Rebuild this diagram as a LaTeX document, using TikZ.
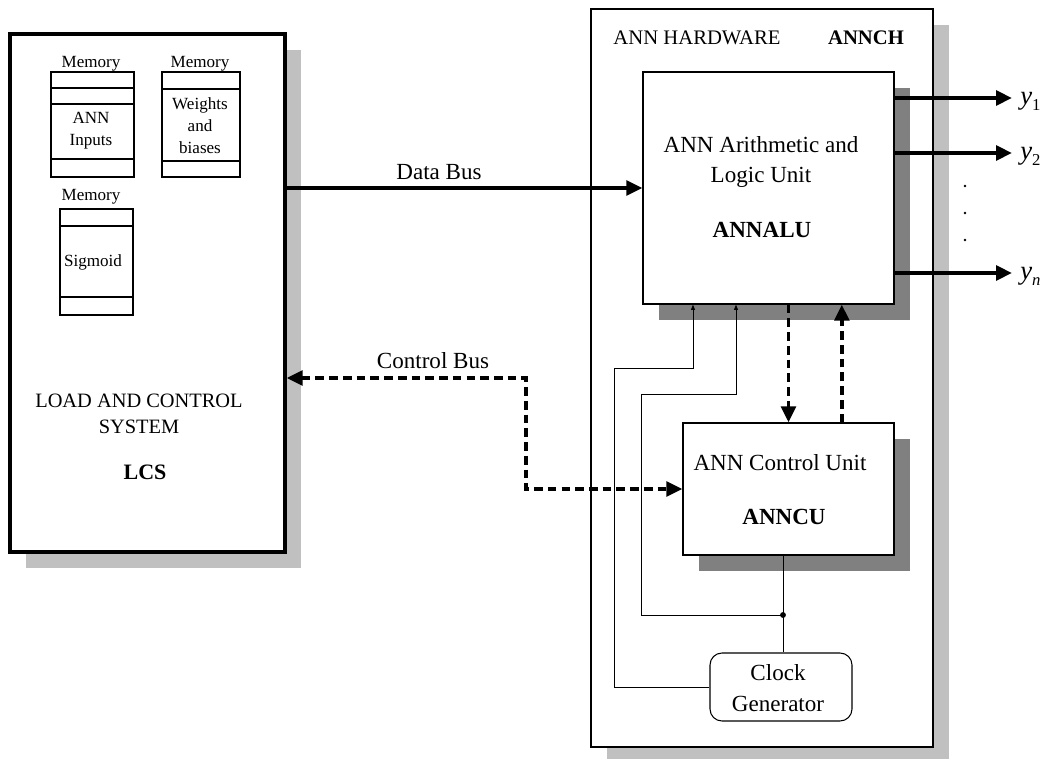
\documentclass[tikz,border=0pt]{standalone}
\usepackage{fontspec}
\setmainfont{Liberation Serif}
\usetikzlibrary{arrows.meta,shadows}
\definecolor{shadedark}{HTML}{808080}
\definecolor{shadelight}{HTML}{C0C0C0}
\newcommand{\bigtxt}{\fontsize{17.3}{22.5}\selectfont}
\newcommand{\headtxt}{\fontsize{15.5}{20}\selectfont}
\newcommand{\smalltxt}{\fontsize{12.8}{16.5}\selectfont}
\newcommand{\outlab}[1]{\fontsize{20}{20}\selectfont\textit{y}\raisebox{-0.5ex}{\fontsize{12.5}{12.5}\selectfont #1}}
\tikzset{
  lightshadow/.style={copy shadow={shadow xshift=12pt,shadow yshift=-12pt,fill=shadelight,draw=none}},
  darkshadow/.style={copy shadow={shadow xshift=12pt,shadow yshift=-12pt,fill=shadedark,draw=none}},
  unitbox/.style={shape=rectangle,draw=black,fill=white,line width=1pt,inner sep=0pt},
  membox/.style={shape=rectangle,draw=black,line width=0.8pt,inner sep=0pt},
  memline/.style={line width=0.8pt},
  bus/.style={line width=2.8pt,-{Triangle[length=12pt,width=11pt]}},
  ctrlbus/.style={line width=2.8pt,dash pattern=on 6.5pt off 3.8pt},
  clkline/.style={line width=0.6pt,-{Triangle[length=4pt,width=3pt]}},
  txt/.style={font=\bigtxt,inner sep=0pt,align=center},
  smalltxt/.style={font=\smalltxt,inner sep=0pt,align=center},
}
\begin{document}
\begin{tikzpicture}[x=0.75pt,y=-0.75pt]
    \useasboundingbox (0,0) rectangle (1043,759);

    %load and control system
    \node[unitbox,lightshadow,line width=2.5pt,minimum width=206.25pt,minimum height=388.5pt] (lcs) at (147.5,293) {};
    \node[txt,font=\fontsize{15.3}{20}\selectfont] (lcstext) at (139,414) {LOAD AND CONTROL\\SYSTEM};
    \node[txt,font=\fontsize{16.5}{20}\selectfont\bfseries] (lcsname) at (145,472) {LCS};

    %memories
    \node[membox,minimum width=62.25pt,minimum height=78.75pt] (mem1) at (92.5,124.5) {};
    \node[membox,minimum width=58.5pt,minimum height=78.75pt] (mem2) at (201,124.5) {};
    \node[membox,minimum width=54.75pt,minimum height=79.5pt] (mem3) at (96.5,262) {};
    \foreach \yy in {88,104,159}
        \draw[memline] (mem1.west |- 0,\yy) -- (mem1.east |- 0,\yy);
    \foreach \yy in {89,161}
        \draw[memline] (mem2.west |- 0,\yy) -- (mem2.east |- 0,\yy);
    \foreach \yy in {226,297}
        \draw[memline] (mem3.west |- 0,\yy) -- (mem3.east |- 0,\yy);
    \node[smalltxt] (mem1lab) at (91,64) {Memory};
    \node[smalltxt] (mem2lab) at (200,64) {Memory};
    \node[smalltxt] (mem3lab) at (91,197) {Memory};
    \node[smalltxt] (inputs) at (91,131) {ANN\\Inputs};
    \node[smalltxt] (weights) at (200,126) {Weights\\and\\biases};
    \node[smalltxt] (sigmoid) at (93,262) {Sigmoid};

    %ann hardware
    \node[unitbox,lightshadow,line width=1.5pt,minimum width=256.5pt,minimum height=553.5pt] (annch) at (762,378) {};
    \node[txt,font=\headtxt] (hwtext) at (697,38) {ANN HARDWARE};
    \node[txt,font=\headtxt\bfseries] (hwname) at (866,38) {ANNCH};

    \node[unitbox,darkshadow,minimum width=188.25pt,minimum height=174pt] (alu) at (768.5,188) {};
    \node[txt] (alutext) at (761,162) {ANN Arithmetic and\\Logic Unit};
    \node[txt,font=\bigtxt\bfseries] (aluname) at (762,230) {ANNALU};

    \node[unitbox,darkshadow,minimum width=158.25pt,minimum height=99pt] (cu) at (788.5,489) {};
    \node[txt] (cutext) at (780,463) {ANN Control Unit};
    \node[txt,font=\bigtxt\bfseries] (cuname) at (784,517) {ANNCU};

    \node[unitbox,rounded corners=9pt,line width=0.8pt,minimum width=106.5pt,minimum height=51pt] (clock) at (781,687) {};
    \node[txt,font=\fontsize{17.3}{23}\selectfont] (clocktext) at (778,688) {Clock\\Generator};

    %buses
    \draw[bus] (lcs.east |- alu.west) -- (alu.west);
    \node[txt] (datalab) at (439,172) {Data Bus};

    \coordinate (cbup) at (526,378);
    \coordinate (cbdown) at (526,489);
    \draw[ctrlbus,{Triangle[length=12pt,width=11pt]}-{Triangle[length=12pt,width=11pt]}] (lcs.east |- cbup) -- (cbup) -- (cbdown) -- (cu.west);
    \node[txt] (ctrllab) at (433,361) {Control Bus};

    \draw[ctrlbus,-{Triangle[length=12pt,width=11pt]}] (alu.south -| cu.north) -- (cu.north);
    \draw[ctrlbus,-{Triangle[length=12pt,width=11pt]}] ([xshift=40pt]cu.north) -- ([xshift=40pt]cu.north |- alu.south);

    %outputs
    \coordinate (out1) at (1012,98);
    \coordinate (out2) at (1012,153);
    \coordinate (outn) at (1012,273);
    \draw[bus] (alu.east |- out1) -- (out1);
    \draw[bus] (alu.east |- out2) -- (out2);
    \draw[bus] (alu.east |- outn) -- (outn);
    \node[txt,anchor=west] (y1) at (1020,101) {\outlab{1}};
    \node[txt,anchor=west] (y2) at (1020,156) {\outlab{2}};
    \node[txt,anchor=west] (yn) at (1020,276) {\outlab{\itshape n}};
    \foreach \yy in {186,213,240}
        \fill (965,\yy) circle[radius=1.1pt];

    %clock lines
    \coordinate (junc) at (783,615);
    \coordinate (clkA) at (641,394);
    \coordinate (clkB) at (736,394);
    \coordinate (clkC) at (614,368);
    \coordinate (clkD) at (693,368);
    \draw[line width=0.6pt] (junc |- cu.south) -- (junc |- clock.north);
    \fill (junc) circle[radius=2.2pt];
    \draw[clkline] (junc) -| (clkA) -- (clkB) -- (clkB |- alu.south);
    \draw[clkline] (clock.west) -| (clkC) -- (clkD) -- (clkD |- alu.south);
\end{tikzpicture}
\end{document}
